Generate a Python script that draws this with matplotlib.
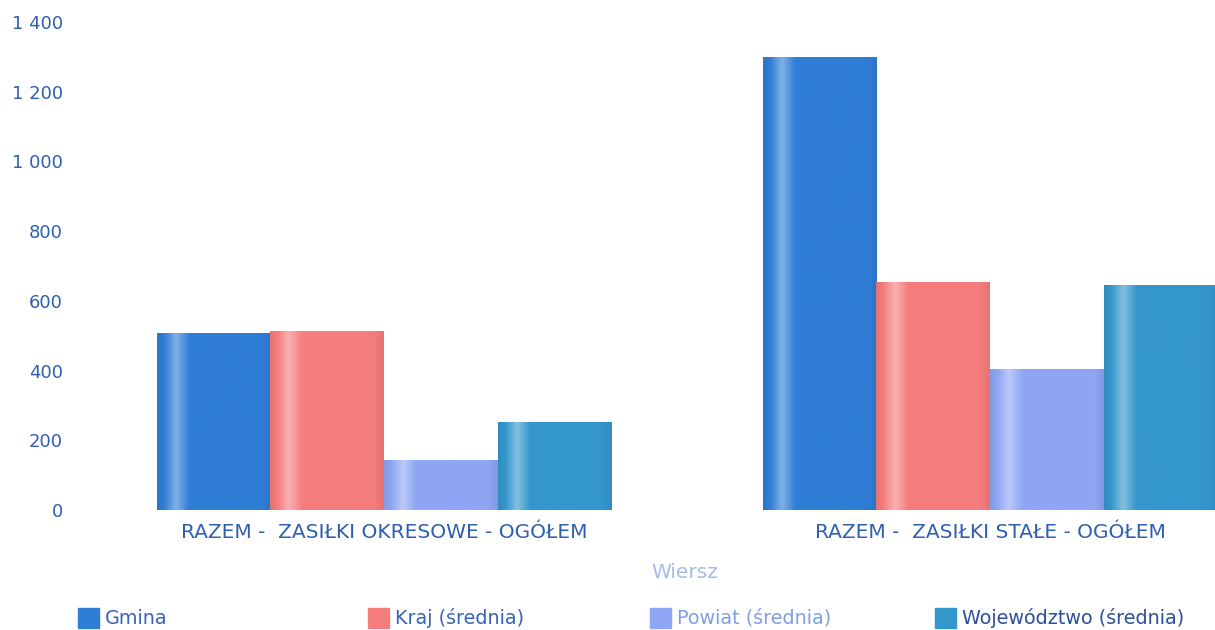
import numpy as np
import matplotlib
matplotlib.use("Agg")
import matplotlib.pyplot as plt
from matplotlib.colors import LinearSegmentedColormap, to_rgb
from matplotlib.patches import Rectangle
from matplotlib.ticker import FuncFormatter

# data
categories = ["RAZEM -  ZASIŁKI OKRESOWE - OGÓŁEM", "RAZEM -  ZASIŁKI STAŁE - OGÓŁEM"]
series = ["Gmina", "Kraj (średnia)", "Powiat (średnia)", "Województwo (średnia)"]
gmina = [505, 1297]
kraj = [513, 654]
powiat = [143, 402]
wojewodztwo = [250, 645]
values = [gmina, kraj, powiat, wojewodztwo]

bar_colors = ["#2f7ed6", "#f57d7d", "#8ea6f4", "#3497cc"]
legend_text_colors = ["#3565b8", "#3565b8", "#7f9fe6", "#2c4f9c"]
axis_blue = "#2f5fae"

plt.rcParams['font.family'] = ['DejaVu Sans']

fig = plt.figure(figsize=(12.15, 6.3), dpi=100)
ax = fig.add_axes([81 / 1215, 120 / 630, 1 - 81 / 1215, 488 / 630])

width = 0.75 / len(series)
x = np.arange(len(categories))


def shade_cmap(c):
    r, g, b = to_rgb(c)
    light = tuple(min(1, v + (1 - v) * 0.4) for v in (r, g, b))
    dark = tuple(v * 0.93 for v in (r, g, b))
    return LinearSegmentedColormap.from_list(
        "s", [(0, dark), (0.06, (r, g, b)), (0.16, light), (0.28, (r, g, b)),
              (0.92, (r, g, b)), (1, dark)])


grad = np.linspace(0, 1, 64).reshape(1, -1)
for i, name in enumerate(series):
    pos = x - 0.375 + width * (i + 0.5)
    bars = ax.bar(pos, values[i], width, color=bar_colors[i], label=name)
    cmap = shade_cmap(bar_colors[i])
    for b in bars:
        x0 = b.get_x()
        ax.imshow(grad, cmap=cmap, aspect="auto", interpolation="bicubic",
                  extent=(x0, x0 + b.get_width(), 0, b.get_height()), zorder=2)

ax.set_xlim(-0.5, 1.371)
ax.set_ylim(0, 1400)
ax.set_yticks(range(0, 1401, 200))
ax.yaxis.set_major_formatter(FuncFormatter(lambda v, p: f"{int(v):,}".replace(",", " ")))
ax.set_xticks(x)
ax.set_xticklabels(categories)
ax.tick_params(axis="both", length=0, labelcolor=axis_blue)
ax.tick_params(axis="y", pad=13, labelsize=13)
ax.tick_params(axis="x", pad=9, labelsize=14.5)
for s in ax.spines.values():
    s.set_visible(False)

fig.text(685 / 1215, 1 - 572 / 630, "Wiersz", color="#a3bce8", fontsize=14.5,
         ha="center", va="center")

# legend, laid out like the original in four fixed slots
slots = [78, 368, 650, 935]
for i, name in enumerate(series):
    sx = slots[i] / 1215
    fig.add_artist(Rectangle((sx, 1 - 628 / 630), 21 / 1215, 20 / 630,
                             transform=fig.transFigure, color=bar_colors[i]))
    fig.text(sx + 27 / 1215, 1 - 618 / 630, name, color=legend_text_colors[i],
             fontsize=13.8, ha="left", va="center")

fig.savefig("out.png", dpi=100)
